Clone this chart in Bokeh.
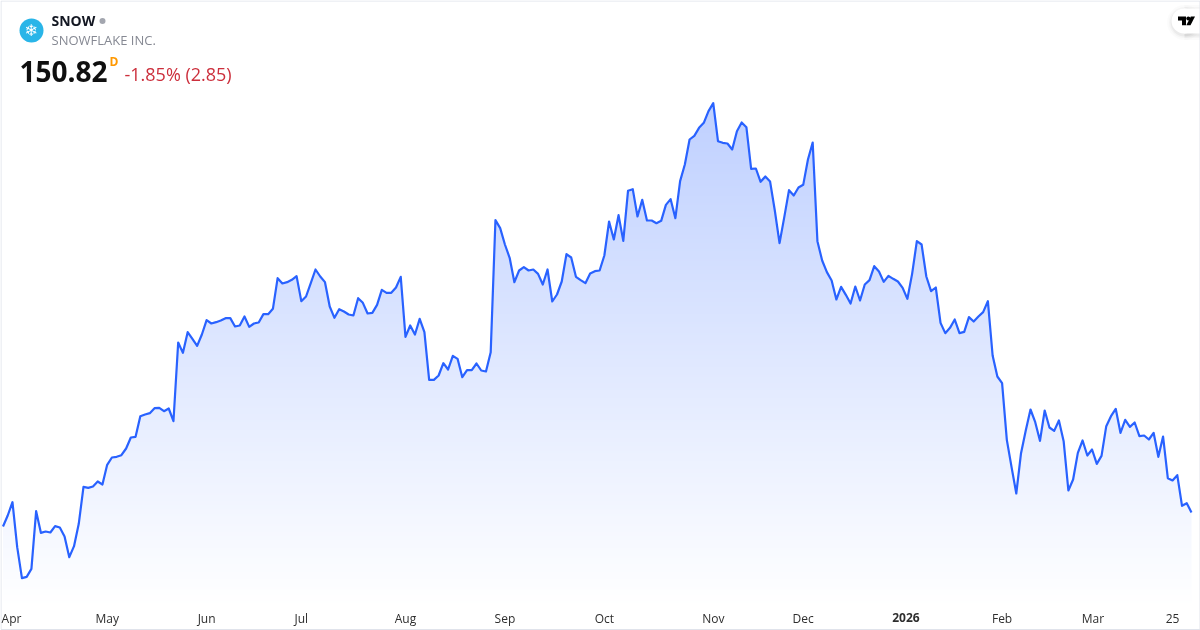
import numpy as np
from bokeh.core.properties import value
from bokeh.embed import file_html
from bokeh.models import FixedTicker, Label, LinearAxis, Range1d
from bokeh.plotting import figure
from bokeh.resources import INLINE

close_values = [
    146.6,149.9,153.9,140.4,131.1,131.5,133.9,151.2,144.7,145.1,144.8,146.7,146.3,143.6,137.4,140.7,147.4,158.5,158.2,158.6,160.1,159.2,
    165.1,167.3,167.5,168.0,170.0,173.3,173.5,179.7,180.2,180.6,182.1,182.2,181.2,182.0,178.2,201.8,198.7,204.9,202.9,200.8,204.2,
    208.5,207.5,207.9,208.4,209.1,209.1,206.6,206.9,209.6,206.5,207.5,207.8,210.3,210.3,211.9,221.1,219.5,219.9,220.6,221.7,
    214.2,215.6,219.6,223.7,221.6,219.9,212.6,209.2,211.8,211.1,210.2,209.9,215.1,213.7,210.5,210.7,213.1,217.6,216.7,216.7,218.3,221.5,
    203.5,206.9,204.2,208.9,204.9,190.6,190.6,191.9,195.6,193.7,197.8,196.9,191.4,193.5,193.5,195.5,193.4,193.1,198.9,238.5,236.1,
    231.2,227.2,219.9,223.4,224.4,223.4,223.7,222.4,219.2,223.7,214.1,216.2,220.1,228.3,227.3,221.5,220.5,219.6,222.5,223.2,223.4,
    227.9,238.1,232.7,240.0,232.3,247.3,247.8,239.6,244.6,238.4,238.4,237.6,238.3,243.1,244.8,239.1,250.2,255.2,262.7,263.8,266.2,267.7,271.2,
    273.6,262.2,261.7,261.5,259.7,265.2,267.8,266.4,253.9,254.0,250.0,251.6,250.1,241.4,231.6,239.4,247.5,245.9,248.3,
    249.1,256.7,261.8,232.2,226.4,222.9,220.4,214.7,218.5,216.1,213.5,218.6,214.4,219.2,220.5,224.7,223.1,220.0,221.8,220.9,220.1,218.2,214.9,
    222.4,232.2,231.2,221.6,217.2,218.3,207.7,204.6,206.2,208.7,204.6,205.0,209.4,208.1,209.6,210.9,214.2,197.9,191.6,
    189.6,172.6,164.4,156.5,168.6,175.4,181.7,177.9,172.3,181.4,176.3,175.3,178.4,172.2,157.4,160.7,168.7,172.4,167.9,
    169.7,165.4,167.8,176.7,179.7,181.9,174.7,178.6,176.5,177.8,173.7,173.9,172.7,174.7,167.5,173.6,161.1,160.4,162.0,152.8,153.6,150.82,
]
tick_labels = ["Apr", "May", "Jun", "Jul", "Aug", "Sep", "Oct", "Nov", "Dec", "Feb", "Mar", "25"]
tick_index = [1.8, 22, 43, 63, 85, 106, 127, 150, 169, 211, 230.2, 247]
year_label = "2026"
year_index = 190.7
symbol = "SNOW"
company = "SNOWFLAKE INC."
last_price = "150.82"
change_text = "-1.85% (2.85)"
interval = "D"

W, H = 1200, 630
AXIS_TOP = 606
FONT = "Open Sans"

PX_X0, PX_PER_BAR = 2.5, 4.735
PRICE_AT_TOP, PRICE_PER_PX = 304.4, 0.3
def dx(px): return (px - PX_X0) / PX_PER_BAR
def dy(py): return PRICE_AT_TOP - PRICE_PER_PX * py

x = np.arange(len(close_values), dtype=float)
y = np.array(close_values)

p = figure(
    width=W, height=H, frame_width=W, frame_height=H,
    x_range=Range1d(dx(0), dx(W)), y_range=Range1d(dy(H), dy(0)),
    toolbar_location=None, output_backend="svg", x_axis_type=None, y_axis_type=None,
    min_border=0, background_fill_color="white", border_fill_color="white",
    styles={"position": "fixed", "left": "0", "top": "0"},
)
p.outline_line_color = None
p.xgrid.visible = False
p.ygrid.visible = False

# Vertical gradient beneath the line, masked above it by a white area
grad_top, grad_bot = dy(102), dy(AXIS_TOP)
rows = 256
fracs = np.linspace(0, 1, rows)
alpha = 0.30 * fracs
rgba = np.zeros((rows, 1, 4), dtype=np.uint8)
rgba[..., 0, 0] = np.round(255 - (255 - 41) * alpha)
rgba[..., 0, 1] = np.round(255 - (255 - 98) * alpha)
rgba[..., 0, 2] = 255
rgba[..., 0, 3] = 255
img = rgba.view(dtype=np.uint32).reshape(rows, 1)
p.image_rgba(image=[img], x=x[0], y=grad_bot, dw=x[-1] - x[0], dh=grad_top - grad_bot)
mask_x = np.concatenate(([x[0] - 1], x, [x[-1] + 1]))
mask_y = np.concatenate(([y[0]], y, [y[-1]]))
p.varea(x=mask_x, y1=mask_y, y2=np.full_like(mask_y, dy(0)), fill_color="white")
p.line(x, y, line_color="#2962FF", line_width=2.2, line_join="round")

# Time axes, both drawn on the same baseline: months and the bold year
def time_axis(ticks, labels, style, standoff):
    a = LinearAxis(
        fixed_location=dy(AXIS_TOP),
        ticker=FixedTicker(ticks=ticks),
        major_label_overrides=dict(zip(ticks, labels)),
        axis_line_color=None, major_tick_line_color=None, minor_tick_line_color=None,
        major_tick_out=0, major_tick_in=0,
        major_label_text_color="#2E2E2E", major_label_text_font=FONT, major_label_text_font_size="12px",
        major_label_text_font_style=style, major_label_standoff=standoff,
    )
    p.add_layout(a, "below")

time_axis(tick_index, tick_labels, "normal", 3)
time_axis([year_index], [year_label], "bold", 6)

def text(txt, px, py, size, color, style="normal", align="left"):
    p.add_layout(Label(x=dx(px), y=dy(py), text=txt, text_font=FONT, text_font_size=f"{size}px",
                       text_color=color, text_font_style=style, text_align=align, text_baseline="middle"))

# Header
p.circle(x=[dx(31)], y=[dy(30)], radius=12, radius_units="screen", fill_color="#29B5E8", line_color=None)
p.add_layout(Label(x=dx(31), y=dy(30), text="\u2744", text_font="DejaVu Sans", text_font_size="16px",
                   text_color="white", text_align="center", text_baseline="middle"))
text(symbol, 51, 20, 14, "#131722", "bold")
p.circle(x=[dx(102)], y=[dy(20.5)], radius=3, radius_units="screen", fill_color="#A3A6AF", line_color=None)
text(company, 51, 39.5, 13, "#868993")
text(last_price, 19, 71, 28, "#0F0F0F", "bold")
text(interval, 109, 61, 12, "#FF9800", "bold")
text(change_text, 124, 73.5, 18, "#CC2F3C")

# TradingView badge
for grow, a in ((5, 0.015), (3, 0.025), (1.5, 0.04)):
    p.circle(x=[dx(1184)], y=[dy(22)], radius=12.5 + grow, radius_units="screen", fill_color="#000000", fill_alpha=a, line_color=None)
    p.quad(left=[dx(1184)], right=[dx(1200)], top=[dy(22 - 12.5 - grow)], bottom=[dy(22 + 12.5 + grow)], fill_color="#000000", fill_alpha=a, line_color=None)
p.circle(x=[dx(1183.5)], y=[dy(20.5)], radius=12.5, radius_units="screen", fill_color="white", line_color=None)
p.quad(left=[dx(1183.5)], right=[dx(1200)], top=[dy(8)], bottom=[dy(33)], fill_color="white", line_color=None)
p.patch([dx(v) for v in (1177.5, 1185.5, 1185.5, 1181.5, 1181.5, 1177.5)],
        [dy(v) for v in (16, 16, 24.7, 24.7, 20, 20)], fill_color="#000000", line_color=None)
p.circle(x=[dx(1187.8)], y=[dy(18)], radius=2, radius_units="screen", fill_color="#000000", line_color=None)
p.patch([dx(v) for v in (1190.3, 1194.5, 1190, 1185.8)],
        [dy(v) for v in (16, 16, 24.7, 24.7)], fill_color="#000000", line_color=None)

# Card edge
p.quad(left=[dx(0.5)], right=[dx(1199.5)], top=[dy(0.5)], bottom=[dy(629)], fill_color=None,
       line_color="#E0E3EB", line_width=1)

open("out.html", "w").write(file_html(p, INLINE))
